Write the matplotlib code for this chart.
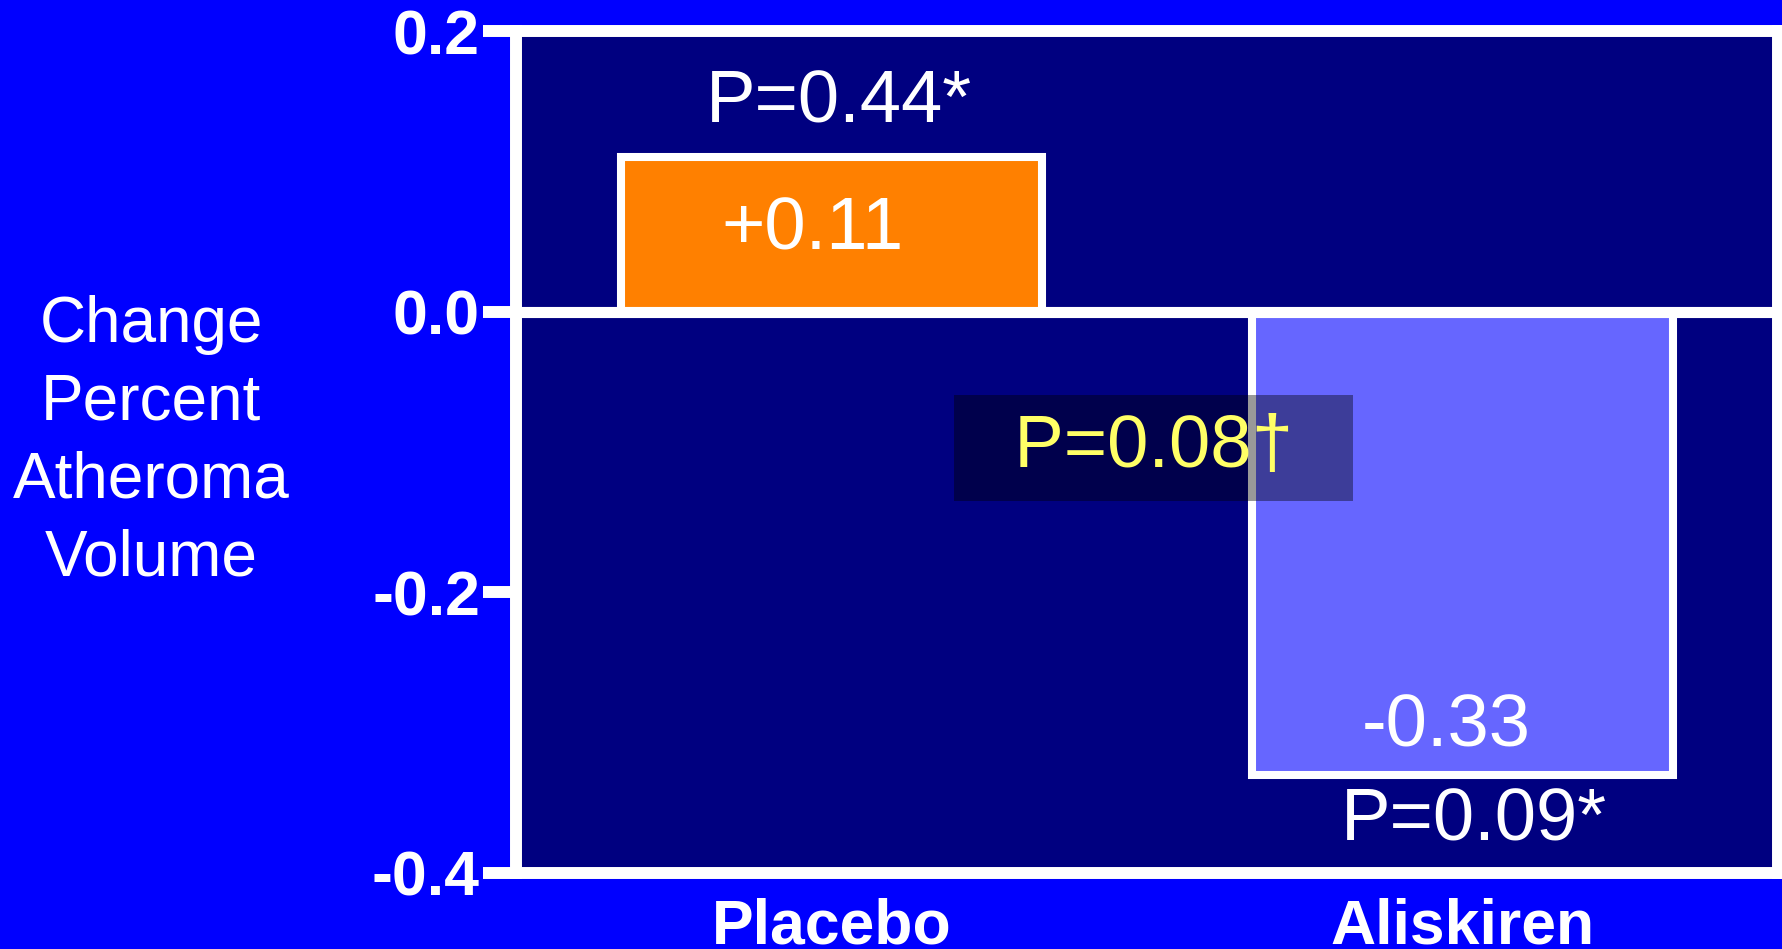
import matplotlib
matplotlib.use("Agg")
import matplotlib.pyplot as plt

# values
groups = ["Placebo", "Aliskiren"]
changes = [0.11, -0.33]
value_labels = ["+0.11", "-0.33"]
p_within = ["P=0.44*", "P=0.09*"]
p_between = "P=0.08\u2020"
yticks = [-0.4, -0.2, 0.0, 0.2]
ytick_labels = ["-0.4", "-0.2", "0.0", "0.2"]
ylabel = "Change\nPercent\nAtheroma\nVolume"

bar_colors = ["#FF8000", "#6666FF"]


def main():
    plt.rcParams['font.family'] = ['Liberation Sans', 'DejaVu Sans']

    fig = plt.figure(figsize=(17.83, 9.49), dpi=100)
    fig.patch.set_facecolor("#0000FF")
    ax = fig.add_axes([0.2894, 0.0801, 0.7078, 0.8872])
    ax.set_facecolor("#000080")

    x = list(range(len(groups)))
    ax.bar(x, changes, width=0.667, color=bar_colors, edgecolor="white",
           linewidth=5.8, zorder=2)
    ax.axhline(0, color="white", linewidth=8, zorder=3)

    ax.set_xlim(-0.5, 1.5)
    ax.set_ylim(-0.4, 0.2)
    ax.set_yticks(yticks)
    ax.set_yticklabels(ytick_labels, fontsize=45, fontweight="bold", color="white")
    ax.set_xticks(x)
    ax.set_xticklabels(groups, fontsize=45, fontweight="bold", color="white")
    ax.tick_params(axis="y", length=24, width=8.6, color="white", pad=2)
    ax.tick_params(axis="x", length=0, pad=18)
    for s in ax.spines.values():
        s.set_color("white")
        s.set_linewidth(8.6)
        s.set_zorder(4)

    ax.set_ylabel(ylabel, rotation=0, fontsize=46, color="white",
                  ha="center", va="center", multialignment="center", linespacing=1.38)
    ax.yaxis.set_label_coords(-0.289, 0.512)

    # numbers inside the bars
    val_pos = [(-0.03, 0.044), (0.975, -0.310)]
    for (tx, ty), s in zip(val_pos, value_labels):
        ax.text(tx, ty, s, fontsize=53.5, color="white", ha="center", va="baseline", zorder=5)

    # within-group p values
    p_pos = [(0.012, 0.135), (1.018, -0.3765)]
    for (tx, ty), s in zip(p_pos, p_within):
        ax.text(tx, ty, s, fontsize=53.5, color="white", ha="center", va="baseline", zorder=5)

    # between-group p value with shaded box
    ax.text(0.51, -0.097, "  " + p_between + "  ", fontsize=53.5, color="#FFFF66",
            ha="center", va="center", zorder=6,
            bbox=dict(boxstyle="square,pad=0.25", facecolor="black", alpha=0.4,
                      edgecolor="none"))

    fig.savefig("out.png", dpi=100, facecolor=fig.get_facecolor())


if __name__ == "__main__":
    main()
